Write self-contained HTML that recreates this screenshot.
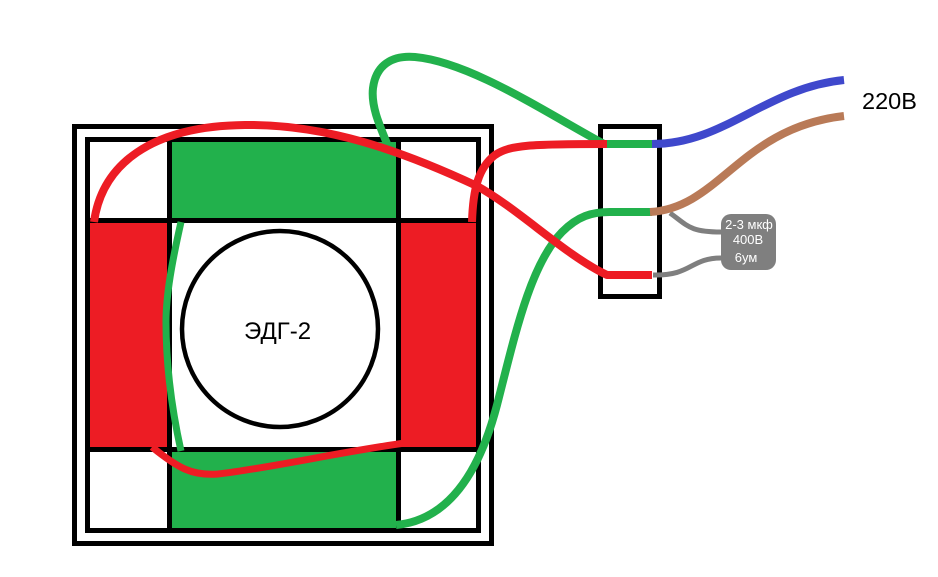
<!DOCTYPE html>
<html><head><meta charset="utf-8"><style>
html,body{margin:0;padding:0;background:#fff}
svg{display:block}
text{font-family:"Liberation Sans","DejaVu Sans",sans-serif}
</style></head><body>
<svg width="938" height="577" viewBox="0 0 938 577" xmlns="http://www.w3.org/2000/svg">
<rect width="938" height="577" fill="#fff"/>
<rect x="172" y="142" width="224" height="76" fill="#22b14c"/>
<rect x="172" y="452" width="224" height="76" fill="#22b14c"/>
<rect x="90" y="223" width="77" height="224" fill="#ed1c24"/>
<rect x="401" y="223" width="75" height="224" fill="#ed1c24"/>
<g fill="none" stroke="#000">
<rect x="74.500" y="126.500" width="417" height="417" stroke-width="5"/>
<rect x="87.500" y="139.500" width="391" height="391" stroke-width="5"/>
<path d="M90 220.500H476M90 449.500H476M169.500 142V528M398.500 142V528" stroke-width="5"/>
<circle cx="280" cy="329" r="98" stroke-width="4.500"/>
<rect x="600.500" y="126.500" width="59" height="170" stroke-width="5"/>
</g>
<text x="244" y="339" font-size="24">ЭДГ-2</text>
<g fill="none" stroke-width="8" stroke-linecap="butt" stroke-linejoin="round">
<path d="M181 222C172 262 166 295 166 322C166 365 172 410 181 451" stroke="#22b14c" stroke-width="7"/>
<path d="M388 146C378 122 371 105 373 88C376 65 392 55 415 57C470 62 545 112 604 144H652" stroke="#22b14c"/>
<path d="M396 525C450 520 480 470 497 405C515 335 530 265 562 232C578 216 592 212 610 212H652" stroke="#22b14c"/>
<path d="M94 222C102 165 150 126 245 125C325 124 400 150 477 186C520 210 565 255 607 275H652" stroke="#ed1c24"/>
<path d="M472 222C473 190 478 168 495 155C510 145 530 144 607 144" stroke="#ed1c24"/>
<path d="M152 447C178 468 192 476 218 474C270 468 340 452 405 443" stroke="#ed1c24" stroke-width="7"/>
<path d="M670 213C688 226 690 232 721 232" stroke="#7f7f7f" stroke-width="5"/>
<path d="M653 275C692 276 690 258 721 258" stroke="#7f7f7f" stroke-width="5"/>
<path d="M652 144C725 144 765 88 844 80" stroke="#3f48cc"/>
<path d="M650 212C720 208 740 128 844 116" stroke="#b97a57"/>
</g>
<rect x="721" y="214" width="55" height="56" rx="10" fill="#7f7f7f"/>
<g font-size="13" fill="#fff" text-anchor="middle">
<text x="749" y="229">2-3 мкф</text>
<text x="748" y="244">400В</text>
<text x="746" y="262">6ум</text>
</g>
<text x="862" y="109" font-size="23.500">220В</text>
</svg>
</body></html>
